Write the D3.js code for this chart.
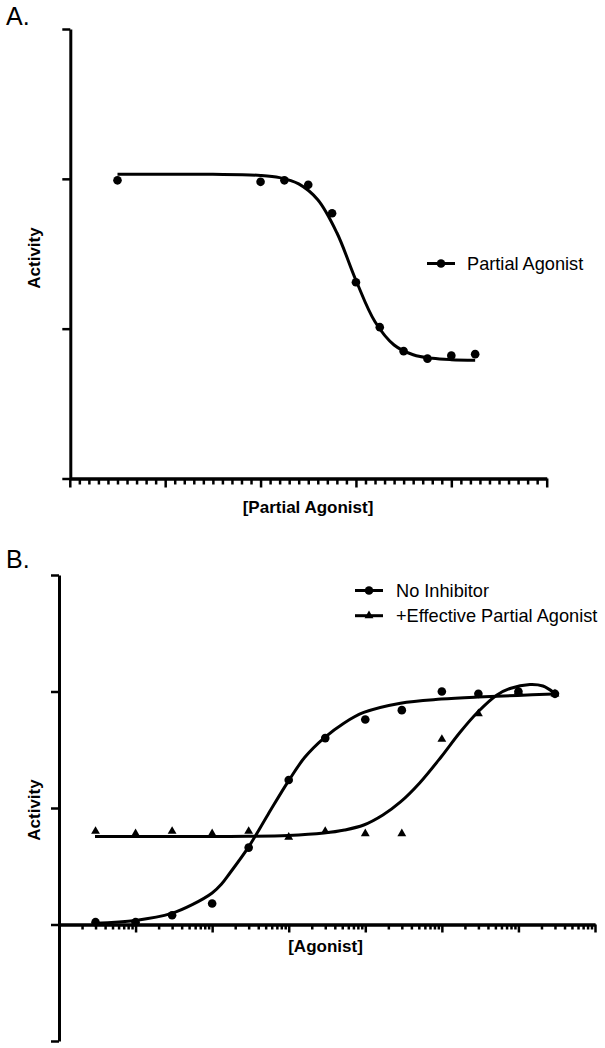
<!DOCTYPE html>
<html><head><meta charset="utf-8">
<script src="https://cdn.jsdelivr.net/npm/d3@7"></script>
<style>body{margin:0;background:#fff}svg{display:block}text{font-family:"Liberation Sans",Arial,sans-serif}</style>
</head><body><svg id="c" width="605" height="1048"></svg>
<script>
// ---------- Panel A data ----------
const aLogX = [-9.5, -8.0, -7.75, -7.5, -7.25, -7.0, -6.75, -6.5, -6.25, -6.0, -5.75];
const aY    = [1.99, 1.98, 1.99, 1.96, 1.77, 1.31, 1.01, 0.85, 0.80, 0.82, 0.83];
// fitted curve
const aFitLogX = [-9.5, -9.0, -8.5, -8.0, -7.8, -7.6, -7.4, -7.2, -7.0, -6.8, -6.6, -6.4, -6.2, -6.0, -5.75];
const aFitY    = [2.031, 2.031, 2.030, 2.023, 2.008, 1.966, 1.860, 1.640, 1.323, 1.046, 0.891, 0.826, 0.802, 0.793, 0.790];
const aYTicks = [0, 1, 2, 3];
const aXMajor = [-10, -9, -8, -7, -6, -5];
const aLegend = ["Partial Agonist"];

// ---------- Panel B data ----------
const bConc  = [3e-12, 1e-11, 3e-11, 1e-10, 3e-10, 1e-9, 3e-9, 1e-8, 3e-8, 1e-7, 3e-7, 1e-6, 3e-6];
const bNoInh = [0.02, 0.02, 0.08, 0.18, 0.66, 1.24, 1.60, 1.76, 1.84, 2.00, 1.98, 2.00, 1.98];
const bEff   = [0.80, 0.78, 0.80, 0.78, 0.80, 0.75, 0.80, 0.78, 0.78, 1.59, 1.81, 2.00, 1.98];
const bFit1LogX = [-11.53, -11.0, -10.53, -10.26, -10.0, -9.88, -9.77, -9.53, -9.27, -9.0, -8.79, -8.54, -8.28, -8.02, -7.54, -7.01, -6.53, -6.01, -5.54];
const bFit1Y    = [0.010, 0.035, 0.095, 0.170, 0.270, 0.345, 0.440, 0.660, 0.945, 1.235, 1.435, 1.600, 1.728, 1.820, 1.900, 1.935, 1.953, 1.966, 1.979];
const bFit2LogX = [-11.53, -11.0, -10.52, -10.0, -9.53, -9.01, -8.54, -8.27, -8.02, -7.77, -7.54, -7.29, -7.01, -6.77, -6.53, -6.28, -6.11, -5.85, -5.68, -5.54];
const bFit2Y    = [0.755, 0.755, 0.755, 0.755, 0.757, 0.764, 0.785, 0.811, 0.854, 0.940, 1.052, 1.215, 1.438, 1.644, 1.824, 1.970, 2.026, 2.060, 2.047, 1.991];
const bYTicks = [-1, 0, 1, 2, 3];
const bLegend = ["No Inhibitor", "+Effective Partial Agonist"];

const svg = d3.select("#c");
const AXW = 3, TKW = 2.5;
const LEGFS = 18.2, LABFS = 17;

function styleAxis(g){
  g.select(".domain").attr("stroke","#000").attr("stroke-width",AXW);
  g.selectAll(".tick line").attr("stroke","#000").attr("stroke-width",TKW);
  g.selectAll(".tick text").remove();
}

// ================= Panel A =================
const xA = d3.scaleLinear().domain([-10,-5]).range([69.8, 546.7]);
const yA = d3.scaleLinear().domain([0,3]).range([478.5, 29]);

const aMinor = d3.range(-100, -49).map(d => d/10).filter(v => !aXMajor.some(m => Math.abs(m-v)<1e-9));
svg.append("g").attr("transform","translate(0,478.5)")
  .call(d3.axisBottom(xA).tickValues(aMinor).tickSize(6).tickSizeOuter(0)).call(styleAxis);
svg.append("g").attr("transform","translate(0,478.5)")
  .call(d3.axisBottom(xA).tickValues(aXMajor).tickSize(9).tickSizeOuter(0)).call(styleAxis);
svg.append("g").attr("transform","translate(70.3,0)")
  .call(d3.axisLeft(yA).tickValues(aYTicks).tickSize(8).tickSizeOuter(0)).call(styleAxis);

const lineA = d3.line().x((d,i)=>xA(aFitLogX[i])).y(d=>yA(d)).curve(d3.curveCatmullRom.alpha(0.5));
svg.append("path").attr("d", lineA(aFitY)).attr("fill","none").attr("stroke","#000").attr("stroke-width",3);
svg.append("g").selectAll("circle").data(aY).join("circle")
  .attr("cx",(d,i)=>xA(aLogX[i])).attr("cy",d=>yA(d)).attr("r",4.3).attr("fill","#000");

// legend A
svg.append("line").attr("x1",427).attr("x2",455).attr("y1",263.5).attr("y2",263.5).attr("stroke","#000").attr("stroke-width",3);
svg.append("circle").attr("cx",441).attr("cy",263.5).attr("r",4.3).attr("fill","#000");
svg.append("text").attr("x",467).attr("y",270).attr("font-size",LEGFS).text(aLegend[0]);

svg.append("text").attr("x",6).attr("y",25).attr("font-size",25).text("A.");
svg.append("text").attr("transform","translate(40,258) rotate(-90)").attr("text-anchor","middle")
  .attr("font-size",LABFS).attr("font-weight","bold").text("Activity");
svg.append("text").attr("x",308).attr("y",512.5).attr("text-anchor","middle")
  .attr("font-size",LABFS).attr("font-weight","bold").text("[Partial Agonist]");

// ================= Panel B =================
const xB = d3.scaleLog().domain([1e-12,1e-5]).range([59, 595]);
const yB = d3.scaleLinear().domain([-1,3]).range([1041, 575]);

const decades = d3.range(-12,-4).map(e => Math.pow(10,e));
const bMinor = [];
d3.range(-12,-5).forEach(e => { for (let m=2;m<=9;m++) bMinor.push(m*Math.pow(10,e)); });
svg.append("g").attr("transform",`translate(0,${yB(0)})`)
  .call(d3.axisBottom(xB).tickValues(bMinor).tickSize(5).tickSizeOuter(0)).call(styleAxis);
svg.append("g").attr("transform",`translate(0,${yB(0)})`)
  .call(d3.axisBottom(xB).tickValues(decades).tickSize(8).tickSizeOuter(0)).call(styleAxis);
svg.append("g").attr("transform","translate(59,0)")
  .call(d3.axisLeft(yB).tickValues(bYTicks).tickSize(8).tickSizeOuter(0)).call(styleAxis);

const lineB1 = d3.line().x((d,i)=>xB(Math.pow(10,bFit1LogX[i]))).y(d=>yB(d)).curve(d3.curveCatmullRom.alpha(0.5));
const lineB2 = d3.line().x((d,i)=>xB(Math.pow(10,bFit2LogX[i]))).y(d=>yB(d)).curve(d3.curveCatmullRom.alpha(0.5));
svg.append("path").attr("d", lineB1(bFit1Y)).attr("fill","none").attr("stroke","#000").attr("stroke-width",3);
svg.append("path").attr("d", lineB2(bFit2Y)).attr("fill","none").attr("stroke","#000").attr("stroke-width",3);

const tri = d3.symbol().type(d3.symbolTriangle).size(34);
svg.append("g").selectAll("path").data(bEff).join("path")
  .attr("d",tri).attr("transform",(d,i)=>`translate(${xB(bConc[i])},${yB(d)})`).attr("fill","#000");
svg.append("g").selectAll("circle").data(bNoInh).join("circle")
  .attr("cx",(d,i)=>xB(bConc[i])).attr("cy",d=>yB(d)).attr("r",4.3).attr("fill","#000");

// legend B
svg.append("line").attr("x1",355).attr("x2",383).attr("y1",590.5).attr("y2",590.5).attr("stroke","#000").attr("stroke-width",3);
svg.append("circle").attr("cx",369).attr("cy",590.5).attr("r",4.3).attr("fill","#000");
svg.append("text").attr("x",396).attr("y",597).attr("font-size",LEGFS).text(bLegend[0]);
svg.append("line").attr("x1",355).attr("x2",383).attr("y1",615.7).attr("y2",615.7).attr("stroke","#000").attr("stroke-width",3);
svg.append("path").attr("d",tri).attr("transform","translate(369,615.7)").attr("fill","#000");
svg.append("text").attr("x",396).attr("y",622.2).attr("font-size",LEGFS).text(bLegend[1]);

svg.append("text").attr("x",6).attr("y",568).attr("font-size",25).text("B.");
svg.append("text").attr("transform","translate(40,810) rotate(-90)").attr("text-anchor","middle")
  .attr("font-size",LABFS).attr("font-weight","bold").text("Activity");
svg.append("text").attr("x",325.5).attr("y",952).attr("text-anchor","middle")
  .attr("font-size",LABFS).attr("font-weight","bold").text("[Agonist]");
</script></body></html>
